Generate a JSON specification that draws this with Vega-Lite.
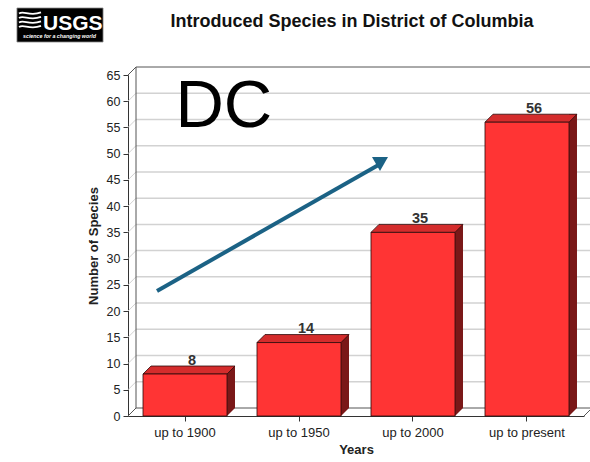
{
  "$schema": "https://vega.github.io/schema/vega-lite/v6.json",
  "width": 456,
  "height": 341,
  "autosize": {"type": "none"},
  "padding": {"left": 128, "top": 75, "right": 6, "bottom": 46},
  "background": "white",
  "config": {
    "view": {"stroke": null},
    "font": "Liberation Sans",
    "text": {"font": "Liberation Sans"}
  },
  "title": {
    "text": "Introduced Species in District of Columbia",
    "font": "Liberation Sans",
    "fontSize": 18,
    "fontWeight": "bold",
    "color": "#111111",
    "anchor": "middle",
    "baseline": "alphabetic",
    "offset": -37,
    "dx": -4
  },
  "datasets": {
    "species": [
      {"period": "up to 1900", "count": 8},
      {"period": "up to 1950", "count": 14},
      {"period": "up to 2000", "count": 35},
      {"period": "up to present", "count": 56}
    ],
    "grid": [
      {"v": 5}, {"v": 10}, {"v": 15}, {"v": 20}, {"v": 25}, {"v": 30},
      {"v": 35}, {"v": 40}, {"v": 45}, {"v": 50}, {"v": 55}, {"v": 60}
    ],
    "edges": [{"v": 0}, {"v": 65}]
  },
  "layer": [
    {
      "data": {"values": [{}]},
      "layer": [
        {
          "data": {"name": "grid"},
          "mark": {"type": "rule", "color": "#d2d2d2", "strokeWidth": 1.5, "xOffset": 8, "x2Offset": 8, "yOffset": -8},
          "encoding": {
            "x": {"datum": 0, "type": "quantitative", "scale": {"domain": [0, 4]}, "axis": null},
            "x2": {"datum": 4},
            "y": {"field": "v", "type": "quantitative", "scale": {"domain": [0, 65], "nice": false}, "axis": null}
          }
        },
        {
          "data": {"name": "grid"},
          "mark": {"type": "rule", "color": "#d2d2d2", "strokeWidth": 1, "x2Offset": 8, "y2Offset": -8},
          "encoding": {
            "x": {"datum": 0, "type": "quantitative", "scale": {"domain": [0, 4]}, "axis": null},
            "x2": {"datum": 0},
            "y": {"field": "v", "type": "quantitative", "scale": {"domain": [0, 65], "nice": false}, "axis": null},
            "y2": {"field": "v"}
          }
        },
        {
          "data": {"name": "edges"},
          "mark": {"type": "rule", "color": "#555555", "strokeWidth": 1, "xOffset": 8, "x2Offset": 8, "yOffset": -8},
          "encoding": {
            "x": {"datum": 0, "type": "quantitative", "scale": {"domain": [0, 4]}, "axis": null},
            "x2": {"datum": 4},
            "y": {"field": "v", "type": "quantitative", "scale": {"domain": [0, 65], "nice": false}, "axis": null}
          }
        },
        {
          "data": {"name": "edges"},
          "mark": {"type": "rule", "color": "#555555", "strokeWidth": 1, "x2Offset": 8, "y2Offset": -8},
          "encoding": {
            "x": {"datum": 0, "type": "quantitative", "scale": {"domain": [0, 4]}, "axis": null},
            "x2": {"datum": 0},
            "y": {"field": "v", "type": "quantitative", "scale": {"domain": [0, 65], "nice": false}, "axis": null},
            "y2": {"field": "v"}
          }
        },
        {
          "mark": {"type": "rule", "color": "#555555", "strokeWidth": 1, "xOffset": 8, "yOffset": -8, "y2Offset": -8},
          "encoding": {
            "x": {"datum": 0, "type": "quantitative", "scale": {"domain": [0, 4]}, "axis": null},
            "y": {"datum": 0, "type": "quantitative", "scale": {"domain": [0, 65], "nice": false}, "axis": null},
            "y2": {"datum": 65}
          }
        },
        {
          "mark": {"type": "rule", "color": "#555555", "strokeWidth": 1, "x2Offset": 8, "y2Offset": -8},
          "encoding": {
            "x": {"datum": 4, "type": "quantitative", "scale": {"domain": [0, 4]}, "axis": null},
            "x2": {"datum": 4},
            "y": {"datum": 0, "type": "quantitative", "scale": {"domain": [0, 65], "nice": false}, "axis": null},
            "y2": {"datum": 0}
          }
        },
        {
          "mark": {"type": "text", "text": "DC", "fontSize": 67, "font": "Liberation Sans", "color": "#000000", "align": "left", "baseline": "alphabetic"},
          "encoding": {
            "x": {"datum": 0.416, "type": "quantitative", "scale": {"domain": [0, 4]}, "axis": null},
            "y": {"datum": 55.1, "type": "quantitative", "scale": {"domain": [0, 65], "nice": false}, "axis": null}
          }
        },
        {
          "mark": {"type": "rule", "color": "#1b6285", "strokeWidth": 4, "strokeCap": "butt"},
          "encoding": {
            "x": {"datum": 0.2544, "type": "quantitative", "scale": {"domain": [0, 4]}, "axis": null},
            "x2": {"datum": 2.193},
            "y": {"datum": 23.83, "type": "quantitative", "scale": {"domain": [0, 65], "nice": false}, "axis": null},
            "y2": {"datum": 47.8}
          }
        },
        {
          "mark": {"type": "point", "shape": "triangle-up", "size": 256, "angle": 60, "filled": true, "color": "#1b6285", "opacity": 1},
          "encoding": {
            "x": {"datum": 2.228, "type": "quantitative", "scale": {"domain": [0, 4]}, "axis": null},
            "y": {"datum": 48.7, "type": "quantitative", "scale": {"domain": [0, 65], "nice": false}, "axis": null}
          }
        },
        {
          "mark": {"type": "rect", "fill": "#000000", "stroke": "#888888", "strokeWidth": 0.8},
          "encoding": {
            "x": {"datum": -0.974, "type": "quantitative", "scale": {"domain": [0, 4]}, "axis": null},
            "x2": {"datum": -0.219},
            "y": {"datum": 77.77, "type": "quantitative", "scale": {"domain": [0, 65], "nice": false}, "axis": null},
            "y2": {"datum": 71.29}
          }
        },
        {
          "mark": {"type": "point", "shape": "M -11 -7 C -6 -10.5 -1 -3.5 11 -8 M -11 -2.5 C -6 -6 -1 1 11 -3.5 M -11 2 C -6 -1.5 -1 5.5 11 1 M -11 6.5 C -6 3 -1 10 11 5.5", "size": 4, "filled": false, "stroke": "#ffffff", "strokeWidth": 1.8, "opacity": 1},
          "encoding": {
            "x": {"datum": -0.8596, "type": "quantitative", "scale": {"domain": [0, 4]}, "axis": null},
            "y": {"datum": 75.4, "type": "quantitative", "scale": {"domain": [0, 65], "nice": false}, "axis": null}
          }
        },
        {
          "mark": {"type": "text", "text": "USGS", "font": "Liberation Sans", "fontSize": 21, "fontWeight": "bold", "color": "#ffffff", "align": "left", "baseline": "alphabetic"},
          "encoding": {
            "x": {"datum": -0.7456, "type": "quantitative", "scale": {"domain": [0, 4]}, "axis": null},
            "y": {"datum": 73.58, "type": "quantitative", "scale": {"domain": [0, 65], "nice": false}, "axis": null}
          }
        },
        {
          "mark": {"type": "text", "text": "science for a changing world", "font": "Liberation Sans", "fontSize": 5.3, "fontWeight": "bold", "fontStyle": "italic", "color": "#ffffff", "align": "center", "baseline": "alphabetic"},
          "encoding": {
            "x": {"datum": -0.601, "type": "quantitative", "scale": {"domain": [0, 4]}, "axis": null},
            "y": {"datum": 72.1, "type": "quantitative", "scale": {"domain": [0, 65], "nice": false}, "axis": null}
          }
        }
      ]
    },
    {
      "data": {"name": "species"},
      "encoding": {
        "x": {
          "field": "period",
          "type": "nominal",
          "sort": null,
          "scale": {"paddingInner": 0.263, "paddingOuter": 0.1316},
          "axis": {
            "title": "Years",
            "titleFont": "Liberation Sans",
            "titleFontSize": 13,
            "titleFontWeight": "bold",
            "titleColor": "#222222",
            "titlePadding": 4,
            "labelFont": "Liberation Sans",
            "labelFontSize": 13,
            "labelColor": "#222222",
            "labelAngle": 0,
            "labelPadding": 5,
            "tickSize": 5,
            "tickColor": "#333333",
            "domainColor": "#333333",
            "grid": false
          }
        },
        "y": {
          "field": "count",
          "type": "quantitative",
          "scale": {"domain": [0, 65], "nice": false},
          "axis": {
            "title": "Number of Species",
            "titleFont": "Liberation Sans",
            "titleFontSize": 13,
            "titleFontWeight": "bold",
            "titleColor": "#222222",
            "titlePadding": 6,
            "values": [0, 5, 10, 15, 20, 25, 30, 35, 40, 45, 50, 55, 60, 65],
            "labelFont": "Liberation Sans",
            "labelFontSize": 12.5,
            "labelColor": "#222222",
            "labelPadding": 3,
            "tickSize": 5,
            "tickColor": "#333333",
            "domainColor": "#333333",
            "grid": false
          }
        }
      },
      "layer": [
        {
          "mark": {"type": "bar", "width": 8, "xOffset": 46, "yOffset": -8, "y2Offset": -8, "fill": "#7a1818"}
        },
        {
          "mark": {"type": "point", "shape": "M 42 0 L 42 -8 L 50 -8 Z", "size": 4, "filled": true, "fill": "#7a1818", "strokeWidth": 0, "opacity": 1},
          "encoding": {"y": {"datum": 0, "type": "quantitative"}}
        },
        {
          "mark": {"type": "point", "shape": "M -42 0 L 42 0 L 50 -8 L -34 -8 Z", "size": 4, "filled": true, "fill": "#d42c2c", "stroke": "#2a0a0a", "strokeWidth": 0.8, "opacity": 1}
        },
        {
          "mark": {"type": "bar", "fill": "#ff3434", "stroke": "#2a0a0a", "strokeWidth": 0.8}
        },
        {
          "mark": {"type": "text", "font": "Liberation Sans", "fontSize": 14.5, "fontWeight": "bold", "color": "#333333", "dx": 7, "dy": -9.5, "baseline": "alphabetic"},
          "encoding": {"text": {"field": "count", "type": "quantitative"}}
        }
      ]
    }
  ],
  "resolve": {
    "scale": {"x": "independent"},
    "axis": {"x": "independent", "y": "independent"}
  }
}
